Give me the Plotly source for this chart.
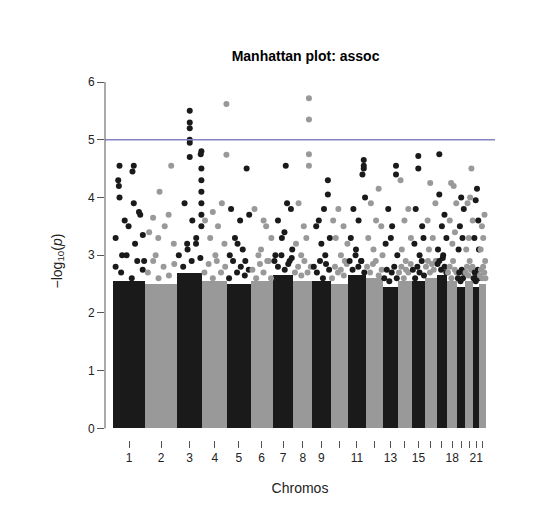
import plotly.graph_objects as go

# chromosome lengths (Mb)
chrom_names = [str(i) for i in range(1, 23)]
chrom_len = [249, 243, 198, 191, 181, 171, 159, 146, 141, 136, 135, 134,
             115, 107, 102, 90, 81, 78, 59, 63, 48, 51]
# height of the dense bulk of points per chromosome
body_height = [2.55, 2.5, 2.7, 2.55, 2.5, 2.55, 2.65, 2.55, 2.55, 2.5, 2.65, 2.6,
               2.45, 2.55, 2.55, 2.6, 2.65, 2.55, 2.45, 2.55, 2.45, 2.5]
tick_labels = ["1", "2", "3", "4", "5", "6", "7", "8", "9", "", "11", "",
               "13", "", "15", "", "", "18", "", "", "21", ""]

# notable points above the bulk: chromosome, position within chromosome (Mb), -log10(p)
pt_chrom = ([1] * 16 + [2] * 9 + [3] * 18 + [4] * 9 + [5] * 9 + [6] * 7 + [7] * 9 + [8] * 9
            + [9] * 8 + [10] * 7 + [11] * 10 + [12] * 7 + [13] * 7 + [14] * 6 + [15] * 7
            + [16] * 6 + [17] * 7 + [18] * 6 + [19] * 5 + [20] * 6 + [21] * 5 + [22] * 5)
pt_pos = ([50, 160, 40, 45, 50, 150, 160, 200, 210, 90, 120, 20, 230, 170, 70, 240,
           30, 60, 110, 150, 200, 100, 80, 180, 220,
           100, 100, 100, 100, 100, 100, 190, 185, 190, 190, 190, 190, 190, 190, 120, 60, 150, 80,
           20, 80, 150, 185, 185, 60, 120, 170, 100,
           30, 150, 100, 60, 120, 170, 20, 80, 140,
           30, 80, 120, 160, 60, 140, 100,
           100, 40, 140, 110, 70, 150, 20, 90, 130,
           120, 120, 120, 120, 40, 80, 20, 60, 100,
           120, 120, 50, 90, 30, 70, 100, 135,
           20, 60, 100, 130, 40, 80, 110,
           120, 120, 120, 110, 130, 40, 80, 20, 60, 100,
           100, 40, 80, 120, 20, 60, 130,
           100, 100, 40, 70, 20, 110, 60,
           20, 80, 50, 100, 30, 60,
           50, 50, 30, 80, 20, 60, 90,
           40, 80, 20, 60, 30, 85,
           20, 20, 60, 40, 75, 10, 50,
           30, 50, 70, 20, 60, 40,
           30, 50, 20, 40, 10,
           50, 40, 20, 60, 30, 10,
           30, 20, 40, 10, 45,
           40, 20, 30, 10, 45])
pt_val = ([4.55, 4.55, 4.3, 4.2, 4.0, 4.45, 3.9, 3.75, 3.7, 3.6, 3.5, 3.3, 3.35, 3.2, 3.0, 2.9,
           3.4, 3.65, 4.1, 3.5, 4.55, 3.3, 3.0, 3.7, 3.2,
           5.5, 5.3, 5.2, 5.0, 4.95, 4.7, 4.8, 4.75, 4.5, 4.3, 4.1, 3.9, 3.7, 3.5, 3.6, 3.9, 3.3, 3.2,
           3.6, 3.75, 3.9, 5.62, 4.74, 3.3, 3.5, 3.2, 3.0,
           3.8, 4.5, 3.6, 3.3, 3.1, 3.7, 3.0, 3.2, 2.9,
           3.8, 3.1, 3.5, 3.3, 3.0, 2.9, 3.6,
           4.55, 3.6, 3.8, 3.9, 3.3, 3.1, 3.0, 3.4, 2.9,
           5.72, 5.35, 4.75, 4.55, 3.9, 3.5, 3.2, 3.0, 3.3,
           4.3, 4.05, 3.6, 3.8, 3.5, 3.2, 3.0, 3.3,
           3.6, 3.8, 3.5, 3.2, 3.3, 3.0, 2.9,
           4.65, 4.55, 4.5, 4.4, 4.0, 3.8, 3.6, 3.3, 3.1, 2.9,
           4.15, 3.9, 3.6, 3.5, 3.3, 3.1, 3.0,
           4.55, 4.4, 3.8, 3.5, 3.2, 3.0, 3.3,
           4.3, 3.8, 3.6, 3.3, 3.1, 2.9,
           4.72, 4.5, 3.8, 3.5, 3.2, 3.0, 3.3,
           4.25, 3.9, 3.6, 3.3, 3.1, 2.9,
           4.75, 4.05, 3.7, 3.5, 3.3, 3.1, 3.0,
           4.25, 4.2, 3.9, 3.6, 3.4, 3.2,
           4.0, 3.8, 3.5, 3.3, 3.1,
           4.5, 4.0, 3.9, 3.6, 3.3, 3.1,
           4.15, 3.95, 3.6, 3.3, 3.1,
           3.7, 3.5, 3.3, 3.1, 2.9])

# ragged fringe just above the bulk: six points per chromosome (fraction along, value)
fringe_frac = [0.08, 0.25, 0.42, 0.58, 0.75, 0.92]
fringe_val = [
    [2.8, 2.7, 3.0, 2.6, 2.9, 2.75], [2.7, 2.9, 2.6, 2.8, 2.65, 2.85],
    [3.0, 2.8, 3.1, 2.9, 3.2, 2.95], [2.7, 2.85, 2.6, 2.9, 2.7, 2.8],
    [2.6, 2.9, 2.7, 2.8, 2.65, 2.75], [2.75, 2.6, 2.85, 2.7, 2.9, 2.6],
    [2.9, 2.8, 3.0, 2.75, 2.85, 2.95], [2.7, 2.8, 2.65, 2.9, 2.7, 2.8],
    [2.8, 2.7, 2.9, 2.6, 2.85, 2.75], [2.6, 2.8, 2.7, 2.75, 2.65, 2.85],
    [2.9, 2.75, 3.0, 2.8, 2.9, 2.7], [2.8, 2.7, 2.85, 2.9, 2.65, 2.75],
    [2.6, 2.75, 2.55, 2.7, 2.8, 2.6], [2.7, 2.8, 2.6, 2.75, 2.7, 2.85],
    [2.75, 2.6, 2.8, 2.7, 2.9, 2.65], [2.8, 2.9, 2.7, 2.85, 2.75, 2.9],
    [2.85, 2.9, 2.75, 2.95, 2.8, 2.7], [2.7, 2.8, 2.6, 2.9, 2.75, 2.7],
    [2.6, 2.7, 2.55, 2.75, 2.6, 2.7], [2.7, 2.8, 2.65, 2.9, 2.75, 2.8],
    [2.6, 2.7, 2.55, 2.65, 2.75, 2.6], [2.65, 2.75, 2.6, 2.8, 2.7, 2.6],
]

DARK, LIGHT = "#1a1a1a", "#999999"
starts, mids = [], []
acc = 0
for L in chrom_len:
    starts.append(acc)
    mids.append(acc + L / 2)
    acc += L
total = acc
colors = [DARK if i % 2 == 0 else LIGHT for i in range(len(chrom_len))]

px_ = [starts[c - 1] + p for c, p in zip(pt_chrom, pt_pos)]
pv_ = list(pt_val)
pc_ = [colors[c - 1] for c in pt_chrom]
for i, vals in enumerate(fringe_val):
    for f, v in zip(fringe_frac, vals):
        px_.append(starts[i] + f * chrom_len[i])
        pv_.append(v)
        pc_.append(colors[i])

fig = go.Figure()
fig.add_trace(go.Bar(x=mids, y=body_height, width=chrom_len, marker_color=colors,
                     marker_line_width=0, showlegend=False, hoverinfo="skip"))
fig.add_trace(go.Scatter(x=px_, y=pv_, mode="markers",
                         marker=dict(size=6, color=pc_), showlegend=False))

fig.add_shape(type="line", xref="paper", x0=0, x1=1, y0=5, y1=5,
              line=dict(color="#8484c4", width=1.5))
fig.add_shape(type="line", xref="paper", x0=0, x1=0, y0=0, y1=6,
              line=dict(color="#555555", width=1))

fig.update_layout(
    width=551, height=507, plot_bgcolor="white", paper_bgcolor="white",
    margin=dict(l=97, r=64, t=74, b=75),
    font=dict(family="Liberation Sans, Arial", size=12, color="#222222"),
    title=dict(text="<b>Manhattan plot: assoc</b>", x=0.54, xanchor="center",
               y=0.905, yanchor="middle", font=dict(size=14, color="#000000")),
    bargap=0,
)
fig.update_xaxes(range=[-62, total + 70], tickvals=mids, ticktext=tick_labels,
                 ticks="outside", ticklen=7, tickcolor="#555555", showgrid=False,
                 zeroline=False, showline=False,
                 title=dict(text="Chromos", standoff=18))
fig.update_yaxes(range=[-0.2, 6], tickvals=[0, 1, 2, 3, 4, 5, 6], ticks="outside",
                 ticklen=7, tickcolor="#555555", showgrid=False, zeroline=False,
                 showline=False,
                 title=dict(text="\u2212log<sub>10</sub>(<i>p</i>)", standoff=22))

fig.write_html("out.html")
